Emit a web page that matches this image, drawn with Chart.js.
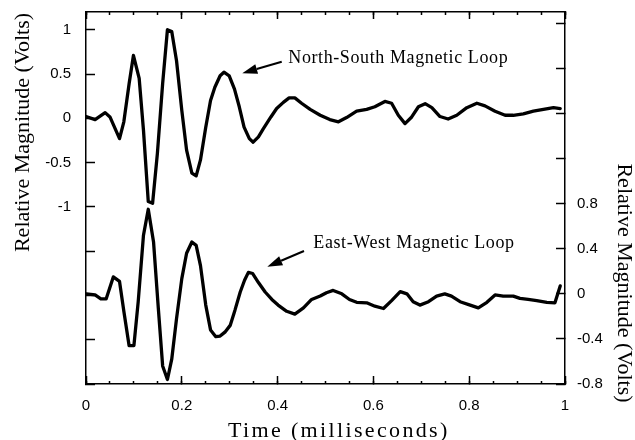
<!DOCTYPE html>
<html>
<head>
<meta charset="utf-8">
<script src="https://cdn.jsdelivr.net/npm/chart.js@4/dist/chart.umd.min.js"></script>
<style>
html,body{margin:0;padding:0;background:#fff;}
#wrap{width:635px;height:440px;}
</style>
</head>
<body>
<div id="wrap"><canvas id="c" width="635" height="440"></canvas></div>
<script>
// ---- data ----
const nsTime = [0.000,0.019,0.040,0.050,0.070,0.079,0.090,0.099,0.111,0.120,0.130,0.139,0.149,0.160,0.170,0.179,0.189,0.200,0.210,0.221,0.230,0.239,0.250,0.260,0.269,0.280,0.288,0.299,0.310,0.320,0.330,0.341,0.349,0.360,0.370,0.386,0.398,0.412,0.424,0.436,0.450,0.468,0.489,0.509,0.527,0.544,0.565,0.586,0.603,0.624,0.638,0.652,0.666,0.680,0.694,0.708,0.722,0.739,0.756,0.774,0.795,0.816,0.833,0.854,0.875,0.892,0.913,0.934,0.955,0.976,0.990];
const nsVolts = [0.02,-0.015,0.064,0.015,-0.23,-0.04,0.39,0.71,0.45,-0.135,-0.94,-0.96,-0.40,0.39,1.00,0.98,0.65,0.09,-0.36,-0.62,-0.65,-0.47,-0.10,0.20,0.35,0.48,0.52,0.48,0.33,0.13,-0.10,-0.23,-0.27,-0.21,-0.12,0.015,0.11,0.18,0.23,0.23,0.17,0.10,0.034,-0.015,-0.04,0.008,0.08,0.10,0.13,0.19,0.17,0.034,-0.06,0.015,0.13,0.165,0.12,0.02,-0.008,0.034,0.12,0.17,0.14,0.08,0.034,0.034,0.05,0.08,0.10,0.12,0.11];
const ewTime = [0.001,0.019,0.031,0.042,0.057,0.070,0.079,0.090,0.100,0.109,0.120,0.130,0.141,0.151,0.160,0.170,0.179,0.189,0.200,0.210,0.221,0.230,0.239,0.250,0.260,0.271,0.280,0.290,0.301,0.311,0.322,0.331,0.339,0.348,0.360,0.374,0.388,0.401,0.419,0.436,0.454,0.471,0.489,0.502,0.516,0.534,0.550,0.565,0.586,0.603,0.621,0.638,0.656,0.670,0.683,0.697,0.715,0.732,0.749,0.763,0.781,0.802,0.819,0.837,0.854,0.871,0.892,0.906,0.923,0.941,0.962,0.979,0.990];
const ewVolts = [0.0,-0.01,-0.045,-0.045,0.15,0.11,-0.155,-0.46,-0.46,-0.07,0.52,0.75,0.46,-0.13,-0.64,-0.76,-0.58,-0.22,0.135,0.36,0.46,0.43,0.25,-0.10,-0.32,-0.38,-0.375,-0.34,-0.28,-0.145,0.016,0.12,0.19,0.18,0.10,0.016,-0.05,-0.10,-0.155,-0.18,-0.125,-0.05,-0.02,0.01,0.03,0.0,-0.05,-0.075,-0.08,-0.11,-0.13,-0.06,0.02,0.0,-0.07,-0.10,-0.07,-0.02,0.0,-0.02,-0.07,-0.10,-0.125,-0.075,-0.01,-0.02,-0.02,-0.04,-0.05,-0.06,-0.075,-0.08,0.07];
const xTickLabels = [0,0.2,0.4,0.6,0.8,1];
const leftTickLabels = [-1,-0.5,0,0.5,1];
const rightTickLabels = [-0.8,-0.4,0,0.4,0.8];
const xTitle = 'Time (milliseconds)';
const yTitle = 'Relative Magnitude (Volts)';
const nsLabel = 'North-South Magnetic Loop';
const ewLabel = 'East-West Magnetic Loop';

const nsPoints = nsTime.map((t,i)=>({x:t,y:nsVolts[i]}));
const ewPoints = ewTime.map((t,i)=>({x:t,y:ewVolts[i]}));

const tickFont = {family:'"Liberation Sans", Arial, sans-serif', size:15};
function fmt(v){ return String(Math.round(v*10)/10); }
function inList(list, v){ return list.some(a=>Math.abs(a-v)<1e-6); }

const AXW = 1.5;
function fixW(w){ return function(s){ s.width = w; s.paddingTop = 0; s.paddingBottom = 0; s.paddingLeft = 0; s.paddingRight = 0; }; }
function fixH(h){ return function(s){ s.height = h; s.paddingTop = 0; s.paddingBottom = 0; s.paddingLeft = 0; s.paddingRight = 0; }; }

const annot = {
  id:'annot',
  afterDraw(chart){
    const ctx = chart.ctx;
    const sx = chart.scales.x, sl = chart.scales.y, sr = chart.scales.y2;
    ctx.save();
    ctx.fillStyle = '#000';
    ctx.strokeStyle = '#000';
    ctx.textAlign = 'left';
    ctx.textBaseline = 'alphabetic';
    // x title
    ctx.font = '22px "Liberation Serif", "Times New Roman", serif';
    ctx.letterSpacing = '2.35px';
    ctx.fillText(xTitle, 228, 437);
    // left title
    ctx.letterSpacing = '0px';
    ctx.save();
    ctx.translate(28.5, 132.5);
    ctx.rotate(-Math.PI/2);
    ctx.textAlign = 'center';
    ctx.fillText(yTitle, 0, 0);
    ctx.restore();
    // right title
    ctx.save();
    ctx.translate(617.5, 283);
    ctx.rotate(Math.PI/2);
    ctx.textAlign = 'center';
    ctx.fillText(yTitle, 0, 0);
    ctx.restore();
    // annotations
    ctx.font = '18px "Liberation Serif", "Times New Roman", serif';
    ctx.letterSpacing = '0.6px';
    ctx.fillText(nsLabel, sx.getPixelForValue(0.4223), sl.getPixelForValue(0.621));
    ctx.fillText(ewLabel, sx.getPixelForValue(0.4745), sr.getPixelForValue(0.409));
    function arrow(x1,y1,x2,y2){
      const a = Math.atan2(y2-y1, x2-x1);
      const L = 15, W = 5;
      const bx = x2 - L*Math.cos(a), by = y2 - L*Math.sin(a);
      ctx.lineWidth = 2;
      ctx.beginPath(); ctx.moveTo(x1,y1); ctx.lineTo(bx,by); ctx.stroke();
      ctx.beginPath();
      ctx.moveTo(x2,y2);
      ctx.lineTo(bx + W*Math.sin(a), by - W*Math.cos(a));
      ctx.lineTo(bx - W*Math.sin(a), by + W*Math.cos(a));
      ctx.closePath(); ctx.fill();
    }
    arrow(sx.getPixelForValue(0.4086), sl.getPixelForValue(0.639), sx.getPixelForValue(0.3263), sl.getPixelForValue(0.508));
    arrow(sx.getPixelForValue(0.4551), sr.getPixelForValue(0.380), sx.getPixelForValue(0.3785), sr.getPixelForValue(0.241));
    ctx.restore();
  }
};

const tickGrid = (len) => ({display:true, drawOnChartArea:false, drawTicks:true, tickLength:len, tickColor:'#000', tickWidth:AXW});

new Chart(document.getElementById('c'), {
  type:'line',
  data:{datasets:[
    {label:nsLabel, data:nsPoints, xAxisID:'x', yAxisID:'y', borderColor:'#000', borderWidth:3.3, pointRadius:0, tension:0, borderJoinStyle:'round', borderCapStyle:'round', fill:false},
    {label:ewLabel, data:ewPoints, xAxisID:'x', yAxisID:'y2', borderColor:'#000', borderWidth:3.3, pointRadius:0, tension:0, borderJoinStyle:'round', borderCapStyle:'round', fill:false}
  ]},
  options:{
    responsive:false, animation:false, devicePixelRatio:1,
    layout:{padding:{top:12,left:0,right:0,bottom:0}},
    plugins:{legend:{display:false}, tooltip:{enabled:false}},
    scales:{
      x:{type:'linear', position:'bottom', min:0, max:1, weight:1,
         ticks:{stepSize:0.2, includeBounds:false, font:tickFont, color:'#000', padding:21, maxRotation:0, autoSkip:false,
                callback:(v)=> inList(xTickLabels,v) ? fmt(v) : ''},
         grid:tickGrid(-8), border:{display:true, color:'#000', width:AXW},
         afterFit:fixH(56)},
      x2:{type:'linear', position:'bottom', min:0, max:1, weight:0,
         ticks:{stepSize:0.05, includeBounds:false, autoSkip:false, callback:()=>''},
         grid:tickGrid(-3), border:{display:false},
         afterFit:fixH(0)},
      xt:{type:'linear', position:'top', min:0, max:1, weight:0,
         ticks:{stepSize:0.2, includeBounds:false, autoSkip:false, callback:()=>''},
         grid:tickGrid(-7), border:{display:true, color:'#000', width:AXW},
         afterFit:fixH(0)},
      xt2:{type:'linear', position:'top', min:0, max:1, weight:1,
         ticks:{stepSize:0.05, includeBounds:false, autoSkip:false, callback:()=>''},
         grid:tickGrid(-3), border:{display:false},
         afterFit:fixH(0)},
      y:{type:'linear', position:'left', min:-3, max:1.2,
         ticks:{stepSize:0.5, includeBounds:false, autoSkip:false, font:tickFont, color:'#000', padding:24,
                callback:(v)=> inList(leftTickLabels,v) ? fmt(v) : ''},
         grid:tickGrid(-9), border:{display:true, color:'#000', width:AXW},
         afterFit:fixW(86)},
      y2:{type:'linear', position:'right', min:-0.8, max:2.5,
         ticks:{stepSize:0.4, includeBounds:false, autoSkip:false, font:tickFont, color:'#000', padding:21,
                callback:(v)=> inList(rightTickLabels,v) ? fmt(v) : ''},
         grid:tickGrid(-9), border:{display:true, color:'#000', width:AXW},
         afterFit:fixW(70)}
    }
  },
  plugins:[annot]
});
</script>
</body>
</html>
